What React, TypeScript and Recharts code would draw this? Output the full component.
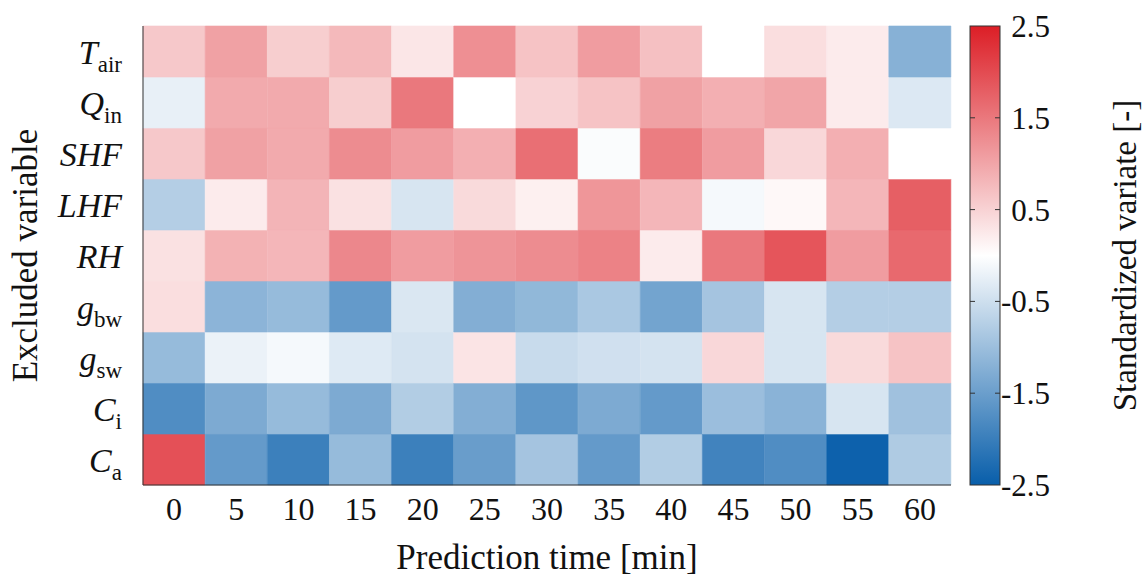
import React from 'react';
import { BarChart, Bar, XAxis, YAxis, Cell } from 'recharts';

// Prediction horizons [min]
const TIMES = ['0', '5', '10', '15', '20', '25', '30', '35', '40', '45', '50', '55', '60'];

// Excluded variables, top to bottom
const VARIABLES = [
  { key: 'Tair', main: 'T', sub: 'air' },
  { key: 'Qin', main: 'Q', sub: 'in' },
  { key: 'SHF', main: 'SHF', sub: '' },
  { key: 'LHF', main: 'LHF', sub: '' },
  { key: 'RH', main: 'RH', sub: '' },
  { key: 'gbw', main: 'g', sub: 'bw' },
  { key: 'gsw', main: 'g', sub: 'sw' },
  { key: 'Ci', main: 'C', sub: 'i' },
  { key: 'Ca', main: 'C', sub: 'a' },
];

// Standardized variate per prediction time
const T_AIR = [0.61, 1.05, 0.55, 0.78, 0.28, 1.25, 0.67, 1.1, 0.7, 0.0, 0.37, 0.22, -1.21];
const Q_IN = [-0.23, 0.94, 0.94, 0.55, 1.5, 0.0, 0.5, 0.67, 1.05, 0.89, 1.0, 0.22, -0.35];
const SHF = [0.61, 1.05, 0.94, 1.28, 1.1, 0.89, 1.6, -0.05, 1.45, 1.1, 0.44, 0.89, 0.0];
const LHF = [-0.76, 0.22, 0.83, 0.33, -0.4, 0.41, 0.17, 1.17, 0.81, -0.1, 0.08, 0.81, 1.78];
const RH = [0.33, 0.86, 0.81, 1.33, 1.1, 1.19, 1.28, 1.39, 0.22, 1.5, 1.89, 1.1, 1.67];
const G_BW = [0.37, -1.16, -1.06, -1.57, -0.37, -1.26, -1.11, -0.86, -1.42, -0.91, -0.4, -0.76, -0.76];
const G_SW = [-1.06, -0.2, -0.1, -0.33, -0.44, 0.3, -0.56, -0.48, -0.44, 0.44, -0.4, 0.41, 0.67];
const C_I = [-1.77, -1.32, -1.06, -1.32, -0.78, -1.26, -1.62, -1.32, -1.57, -1.01, -1.18, -0.4, -0.96];
const C_A = [1.94, -1.57, -1.97, -1.06, -1.97, -1.52, -0.91, -1.57, -0.78, -1.92, -1.77, -2.45, -0.81];

const VALUES: Record<string, number[]> = {
  Tair: T_AIR,
  Qin: Q_IN,
  SHF: SHF,
  LHF: LHF,
  RH: RH,
  gbw: G_BW,
  gsw: G_SW,
  Ci: C_I,
  Ca: C_A,
};

const CB_TICKS = [-2.5, -1.5, -0.5, 0.5, 1.5, 2.5];
const V_MAX = 2.5;

const FONT = '"Liberation Serif", "Times New Roman", serif';
const BORDER = '#333';
const RED_END = [220, 30, 38];
const BLUE_END = [8, 94, 170];

function colorFor(v: number) {
  const t = Math.min(Math.abs(v) / V_MAX, 1);
  const end = v >= 0 ? RED_END : BLUE_END;
  const c = end.map((e) => Math.round(255 - t * (255 - e)));
  return `rgb(${c[0]},${c[1]},${c[2]})`;
}

// stacked bar rows: first entry sits at the bottom
const STACK = [...VARIABLES].reverse();

const table = TIMES.map((time) => {
  const row: any = { time };
  STACK.forEach((v) => {
    row[v.key] = 1;
  });
  return row;
});

const rowTicks = STACK.map((_, i) => i + 0.5);

const RowTick = ({ x, y, payload }: any) => {
  const v = STACK[Math.floor(payload.value)];
  return (
    <text x={x} y={y + 12} textAnchor="end" fontFamily={FONT} fontSize={34} fill="#111">
      <tspan fontStyle="italic">{v.main}</tspan>
      {v.sub && (
        <tspan fontSize={23} dy={8}>
          {v.sub}
        </tspan>
      )}
    </text>
  );
};

const TimeTick = ({ x, y, payload }: any) => (
  <text x={x} y={y + 35} textAnchor="middle" fontFamily={FONT} fontSize={32} fill="#111">
    {payload.value}
  </text>
);

const CbTick = ({ x, y, payload }: any) => {
  const inner = payload.value !== 2.5 && payload.value !== -2.5;
  return (
    <g>
      {inner && <line x1={x - 30} x2={x - 25} y1={y} y2={y} stroke={BORDER} strokeWidth={1} />}
      {inner && <line x1={x - 5} x2={x} y1={y} y2={y} stroke={BORDER} strokeWidth={1} />}
      <text x={x + 50} y={y + 11} textAnchor="end" fontFamily={FONT} fontSize={31} fill="#111">
        {payload.value}
      </text>
    </g>
  );
};

const CbShape = (props: any) => {
  const { x, y, width, height } = props;
  return (
    <g>
      <defs>
        <linearGradient id="cbGrad" x1="0" y1="0" x2="0" y2="1">
          <stop offset="0%" stopColor={colorFor(2.5)} />
          <stop offset="50%" stopColor="#ffffff" />
          <stop offset="100%" stopColor={colorFor(-2.5)} />
        </linearGradient>
      </defs>
      <rect x={x} y={y} width={width} height={height} fill="url(#cbGrad)" stroke={BORDER} strokeWidth={1} />
    </g>
  );
};

const colorbarData = [{ name: 'cb', range: [-CB_TICKS[CB_TICKS.length - 1], CB_TICKS[CB_TICKS.length - 1]] }];

export default function App() {
  return (
    <div style={{ position: 'absolute', left: 0, top: 0, width: 1146, height: 577, background: '#fff' }}>
      <div style={{ position: 'absolute', left: 0, top: 0 }}>
        <BarChart
          width={960}
          height={577}
          data={table}
          margin={{ top: 26, right: 9, bottom: 0, left: 0 }}
          barCategoryGap={0}
          barGap={0}
        >
          <XAxis
            dataKey="time"
            interval={0}
            height={92}
            tickSize={0}
            tickMargin={0}
            axisLine={{ stroke: BORDER }}
            tick={<TimeTick />}
            label={{
              content: (p: any) => {
                const vb = p.viewBox;
                return (
                  <text x={vb.x + vb.width / 2} y={vb.y + 84} textAnchor="middle" fontFamily={FONT} fontSize={35} fill="#111">
                    Prediction time [min]
                  </text>
                );
              },
            }}
          />
          <XAxis xAxisId="top" dataKey="time" orientation="top" height={0} tick={false} tickLine={false} axisLine={{ stroke: BORDER }} />
          <YAxis
            type="number"
            domain={[0, STACK.length]}
            ticks={rowTicks}
            interval={0}
            width={143}
            tickSize={0}
            tickMargin={21}
            axisLine={{ stroke: BORDER }}
            tick={<RowTick />}
            label={{
              content: (p: any) => {
                const vb = p.viewBox;
                const cx = vb.x + 25;
                const cy = vb.y + vb.height / 2;
                return (
                  <text x={cx} y={cy} transform={`rotate(-90 ${cx} ${cy})`} textAnchor="middle" dominantBaseline="central" fontFamily={FONT} fontSize={35} fill="#111">
                    Excluded variable
                  </text>
                );
              },
            }}
          />
          <YAxis yAxisId="right" orientation="right" type="number" domain={[0, STACK.length]} width={0} tick={false} tickLine={false} axisLine={{ stroke: BORDER }} />
          {STACK.map((v) => (
            <Bar key={v.key} dataKey={v.key} stackId="heat" isAnimationActive={false}>
              {VALUES[v.key].map((val, i) => (
                <Cell key={i} fill={colorFor(val)} stroke={colorFor(val)} strokeWidth={0.6} />
              ))}
            </Bar>
          ))}
        </BarChart>
      </div>
      <div style={{ position: 'absolute', left: 960, top: 0 }}>
        <BarChart
          width={186}
          height={577}
          data={colorbarData}
          margin={{ top: 26, right: 0, bottom: 92, left: 10 }}
          barCategoryGap={0}
        >
          <XAxis dataKey="name" hide />
          <YAxis
            orientation="right"
            type="number"
            domain={[-V_MAX, V_MAX]}
            ticks={CB_TICKS}
            interval={0}
            width={146}
            tickSize={0}
            tickMargin={0}
            axisLine={false}
            tick={<CbTick />}
            label={{
              content: (p: any) => {
                const vb = p.viewBox;
                const cx = vb.x + 125;
                const cy = vb.y + vb.height / 2;
                return (
                  <text x={cx} y={cy} transform={`rotate(-90 ${cx} ${cy})`} textAnchor="middle" dominantBaseline="central" fontFamily={FONT} fontSize={33} fill="#111">
                    Standardized variate [-]
                  </text>
                );
              },
            }}
          />
          <Bar dataKey="range" isAnimationActive={false} shape={<CbShape />} />
        </BarChart>
      </div>
    </div>
  );
}
